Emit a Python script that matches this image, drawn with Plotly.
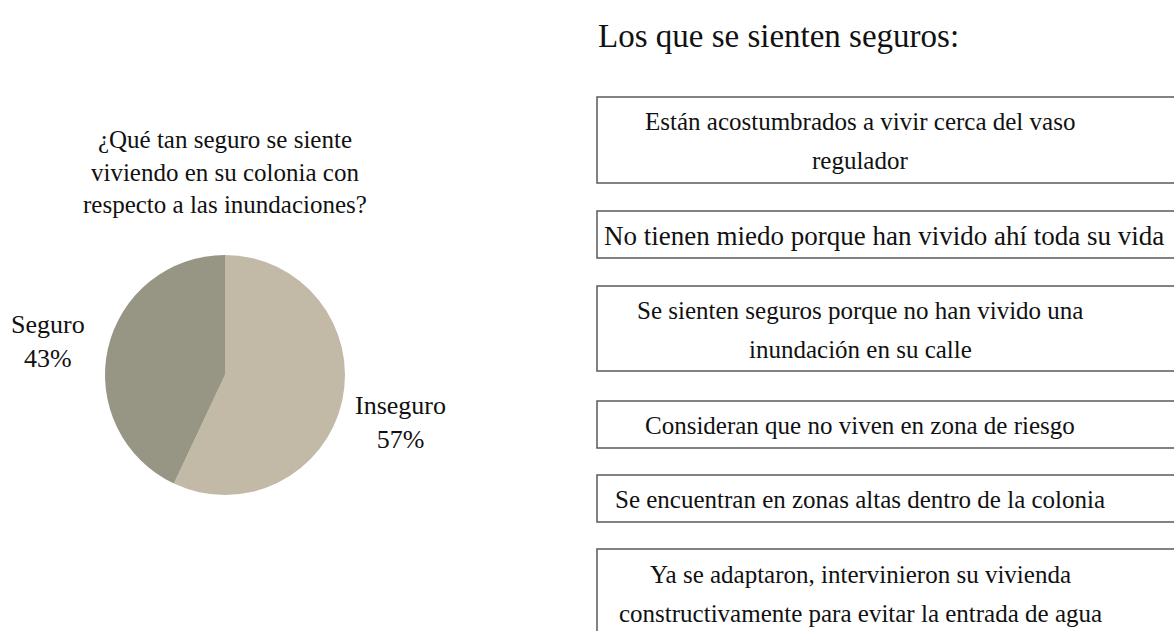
import plotly.graph_objects as go

# Survey answers: how safe respondents feel about flooding in their neighbourhood
pie_labels = ["Inseguro", "Seguro"]
pie_values = [57, 43]
pie_colors = ["#C3B9A7", "#979684"]

pie_title_lines = [
    "¿Qué tan seguro se siente",
    "viviendo en su colonia con",
    "respecto a las inundaciones?",
]

panel_title = "Los que se sienten seguros:"

# Reasons given by those who feel safe (one entry per box, one item per text line)
reasons = [
    ["Están acostumbrados a vivir cerca del vaso", "regulador"],
    ["No tienen miedo porque han vivido ahí toda su vida"],
    ["Se sienten seguros porque no han vivido una", "inundación en su calle"],
    ["Consideran que no viven en zona de riesgo"],
    ["Se encuentran en zonas altas dentro de la colonia"],
    ["Ya se adaptaron, intervinieron su vivienda",
     "constructivamente para evitar la entrada de agua"],
]

W, H = 1174, 631
FONT = "Liberation Serif"
INK = "#111111"


def px(x):
    return x / W


def py(y):
    return 1 - y / H


fig = go.Figure()

# Pie: centre (225, 375) px, radius 120 px
cx, cy, r = 225, 375, 120
fig.add_trace(go.Pie(
    labels=pie_labels,
    values=pie_values,
    marker=dict(colors=pie_colors, line=dict(width=0)),
    sort=False,
    direction="clockwise",
    rotation=0,
    textinfo="none",
    hoverinfo="label+percent",
    showlegend=False,
    domain=dict(x=[px(cx - r), px(cx + r)], y=[py(cy + r), py(cy - r)]),
))

annotations = []
shapes = []

# Question above the pie
annotations.append(dict(
    text="<br>".join(pie_title_lines), x=px(225), y=py(172),
    xref="paper", yref="paper", xanchor="center", yanchor="middle",
    showarrow=False, align="center",
    font=dict(family=FONT, size=25, color=INK),
))

# Slice labels with their percentages
label_pos = {"Seguro": (48, 341), "Inseguro": (400, 422)}
for name, val in zip(pie_labels, pie_values):
    x, y = label_pos[name]
    annotations.append(dict(
        text=f"{name}<br>{val}%", x=px(x), y=py(y),
        xref="paper", yref="paper", xanchor="center", yanchor="middle",
        showarrow=False, align="center",
        font=dict(family=FONT, size=26, color=INK),
    ))

# Right-hand panel title
annotations.append(dict(
    text=panel_title, x=px(596), y=py(36),
    xref="paper", yref="paper", xanchor="left", yanchor="middle",
    showarrow=False, font=dict(family=FONT, size=33, color=INK),
))

# Reason boxes: (top, bottom) in px
box_rows = [(97, 183), (211, 258), (286, 371), (401, 448), (475, 522), (549, 636)]
box_left, box_right = 597, 1190
text_cx = 860
line_gap = 39

for lines, (top, bottom) in zip(reasons, box_rows):
    shapes.append(dict(
        type="rect", xref="paper", yref="paper",
        x0=px(box_left), x1=px(box_right), y0=py(bottom), y1=py(top),
        line=dict(color="#5a5a5a", width=1.5), fillcolor="rgba(0,0,0,0)",
    ))
    mid = (top + bottom) / 2
    n = len(lines)
    for i, line in enumerate(lines):
        ly = mid + (i - (n - 1) / 2) * line_gap
        wide = n == 1 and len(line) > 49
        annotations.append(dict(
            text=line,
            x=px(602) if wide else px(text_cx),
            y=py(ly + 1),
            xref="paper", yref="paper",
            xanchor="left" if wide else "center", yanchor="middle",
            showarrow=False,
            font=dict(family=FONT, size=27 if wide else 25, color=INK),
        ))

fig.update_layout(
    width=W, height=H,
    margin=dict(l=0, r=0, t=0, b=0),
    paper_bgcolor="white", plot_bgcolor="white",
    annotations=annotations, shapes=shapes,
)

fig.write_html("out.html", config={"displayModeBar": False})
